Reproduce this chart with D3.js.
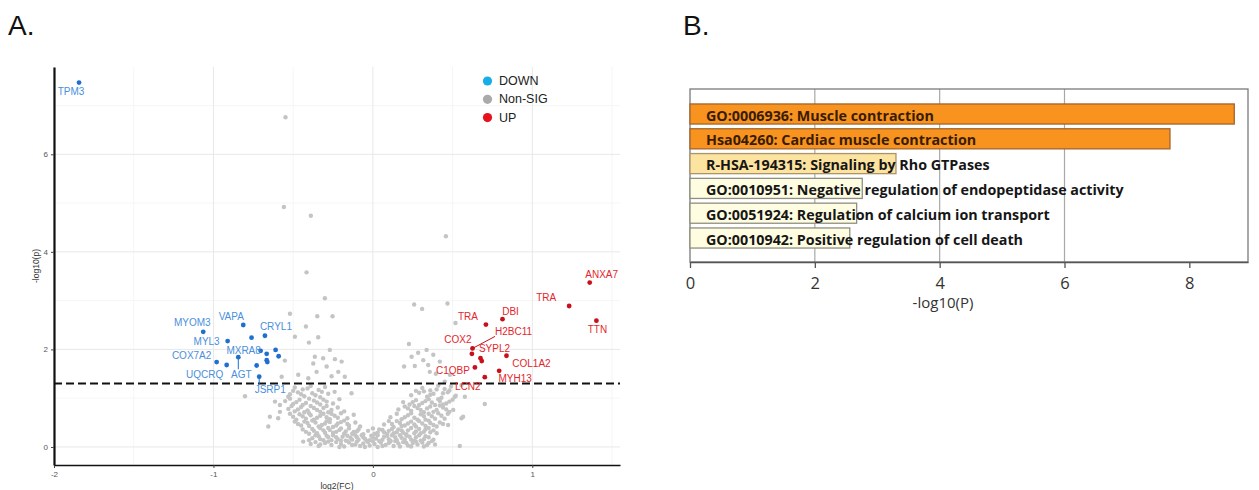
<!DOCTYPE html>
<html lang="en">
  <head>
    <meta charset="UTF-8" />
    <title>Volcano plot and enrichment</title>
    <script src="https://cdn.jsdelivr.net/npm/d3@7"></script>
    <style>
      html,
      body {
        margin: 0;
        padding: 0;
        background: #fff;
      }
      svg {
        display: block;
      }
    </style>
  </head>
  <body>
    <svg width="1259" height="490"></svg>
    <script>
      // ---- panel A data ----
      const downGenes = ['TPM3', 'MYOM3', 'VAPA', '', 'CRYL1', 'MYL3', 'MXRA8', '', '', '', '', '', 'AGT', 'COX7A2', 'UQCRQ', '', 'JSRP1'];
      const downFC = [-1.843, -1.064, -0.813, -0.761, -0.677, -0.911, -0.704, -0.666, -0.61, -0.591, -0.666, -0.662, -0.844, -0.98, -0.917, -0.729, -0.713];
      const downP = [7.47, 2.36, 2.5, 2.24, 2.28, 2.17, 1.97, 1.91, 1.99, 1.86, 1.78, 1.74, 1.84, 1.74, 1.68, 1.67, 1.44];

      const upGenes = ['ANXA7', 'TRA', 'TTN', 'DBI', 'TRA', 'H2BC11', 'COX2', 'SYPL2', '', 'COL1A2', 'C1QBP', 'MYH13', 'LCN2'];
      const upFC = [1.36, 1.231, 1.402, 0.813, 0.709, 0.625, 0.621, 0.675, 0.683, 0.838, 0.64, 0.792, 0.702];
      const upP = [3.37, 2.89, 2.59, 2.62, 2.51, 2.02, 1.91, 1.82, 1.76, 1.87, 1.63, 1.56, 1.43];

      // [log2FC, -log10p]
      const nonSig = [
        [-0.548, 6.76], [-0.558, 4.92], [-0.389, 4.74], [0.458, 4.32],
        [-0.416, 3.58], [-0.301, 3.05], [-0.52, 2.73], [-0.349, 2.68], [-0.253, 2.68], [-0.42, 2.47],
        [-0.489, 2.26], [-0.343, 2.25], [-0.401, 2.14], [-0.27, 1.99], [-0.364, 1.85], [-0.312, 1.82],
        [-0.238, 1.8], [-0.196, 1.75], [-0.552, 1.77], [-0.374, 1.71], [-0.29, 1.65], [-0.353, 1.54],
        [-0.217, 1.54], [-0.468, 1.48], [-0.572, 1.44], [-0.259, 1.45], [-0.176, 1.44], [-0.405, 1.41],
        [0.259, 2.92], [0.309, 2.83], [0.468, 2.94], [0.518, 2.54], [0.226, 2.11], [0.284, 1.93],
        [0.337, 1.99], [0.243, 1.85], [0.379, 1.89], [0.316, 1.78], [0.196, 1.65], [0.263, 1.66],
        [0.347, 1.68], [0.42, 1.75], [0.357, 1.54], [0.395, 1.5], [0.483, 1.48], [0.451, 1.34],
        [-0.802, 1.04], [-0.614, 0.93], [-0.531, 1.03], [-0.134, 1.1], [-0.583, 0.72], [-0.646, 0.62],
        [-0.594, 0.59], [-0.656, 0.42], [-0.437, 0.11], [-0.583, 0.86], [0.556, 1.27], [0.514, 1.03],
        [0.577, 1.03], [0.504, 0.76], [0.556, 0.59], [0.472, 0.45], [0.545, 0.02], [0.702, 0.88],
        [0.566, 0.62],
        [-0.49, 1.22], [-0.44, 1.18], [-0.39, 1.25], [-0.34, 1.17], [-0.3, 1.23], [0.31, 1.21],
        [0.36, 1.16], [0.41, 1.26], [0.45, 1.19], [0.49, 1.24], [0.27, 1.15],
        [-0.52, 1.08], [-0.47, 1.12], [-0.43, 1.04], [-0.38, 1.1], [-0.33, 1.02], [-0.28, 1.09],
        [-0.24, 1.13], [0.24, 1.06], [0.29, 1.11], [0.34, 1.03], [0.38, 1.09], [0.43, 1.01],
        [0.47, 1.12], [0.52, 1.05],
        [-0.5, 1.15], [-0.45, 1.08], [-0.41, 1.2], [-0.36, 1.06], [-0.32, 1.13], [0.32, 1.14],
        [0.36, 1.07], [0.4, 1.18], [0.44, 1.1], [0.48, 1.16],
        [-0.55, 0.94], [-0.5, 0.88], [-0.46, 0.97], [-0.42, 0.9], [-0.37, 0.95], [-0.33, 0.87],
        [-0.29, 0.93], [-0.25, 0.89], [-0.21, 0.98], [0.19, 0.92], [0.23, 0.87], [0.27, 0.96],
        [0.31, 0.9], [0.35, 0.98], [0.39, 0.86], [0.42, 0.94], [0.46, 0.89], [0.5, 0.97],
        [-0.52, 0.99], [-0.48, 0.92], [-0.44, 0.86], [-0.4, 0.99], [-0.35, 0.91], [-0.31, 0.97],
        [0.25, 0.92], [0.29, 0.86], [0.33, 0.94], [0.37, 0.91], [0.41, 0.98], [0.44, 0.87], [0.48, 0.93],
        [-0.53, 0.78], [-0.49, 0.73], [-0.45, 0.82], [-0.41, 0.75], [-0.37, 0.8], [-0.33, 0.72],
        [-0.29, 0.84], [-0.26, 0.76], [-0.22, 0.81], [-0.18, 0.73], [0.16, 0.77], [0.2, 0.83],
        [0.24, 0.74], [0.28, 0.8], [0.32, 0.71], [0.36, 0.83], [0.4, 0.76], [0.44, 0.81], [0.48, 0.72],
        [-0.51, 0.84], [-0.47, 0.77], [-0.43, 0.71], [-0.39, 0.84], [-0.35, 0.76], [-0.31, 0.8],
        [-0.28, 0.71], [0.22, 0.79], [0.26, 0.84], [0.3, 0.76], [0.34, 0.79], [0.38, 0.72],
        [0.42, 0.85], [0.46, 0.77],
        [-0.5, 0.62], [-0.46, 0.67], [-0.42, 0.58], [-0.39, 0.65], [-0.35, 0.6], [-0.31, 0.68],
        [-0.27, 0.57], [-0.24, 0.64], [-0.2, 0.69], [-0.16, 0.59], [-0.12, 0.66], [0.11, 0.61],
        [0.15, 0.68], [0.18, 0.57], [0.22, 0.65], [0.26, 0.6], [0.3, 0.67], [0.33, 0.56],
        [0.37, 0.63], [0.41, 0.69], [0.45, 0.58],
        [-0.52, 0.68], [-0.48, 0.56], [-0.44, 0.63], [-0.4, 0.69], [-0.37, 0.56], [-0.33, 0.64],
        [-0.29, 0.61], [-0.26, 0.68], [-0.22, 0.6], [0.2, 0.61], [0.24, 0.69], [0.28, 0.56],
        [0.32, 0.63], [0.35, 0.68], [0.39, 0.58], [0.43, 0.64], [0.47, 0.68],
        [-0.47, 0.47], [-0.43, 0.52], [-0.4, 0.43], [-0.36, 0.5], [-0.32, 0.45], [-0.29, 0.53],
        [-0.25, 0.41], [-0.22, 0.48], [-0.18, 0.54], [-0.15, 0.44], [-0.11, 0.5], [-0.08, 0.42],
        [0.07, 0.46], [0.1, 0.53], [0.13, 0.41], [0.17, 0.49], [0.2, 0.44], [0.24, 0.52],
        [0.27, 0.42], [0.31, 0.48], [0.35, 0.54], [0.38, 0.45], [0.42, 0.5],
        [-0.49, 0.52], [-0.45, 0.44], [-0.41, 0.49], [-0.38, 0.54], [-0.34, 0.42], [-0.3, 0.48],
        [-0.27, 0.51], [-0.23, 0.44], [-0.2, 0.51], [-0.16, 0.47], [0.12, 0.47], [0.15, 0.53],
        [0.18, 0.43], [0.22, 0.48], [0.26, 0.46], [0.29, 0.53], [0.33, 0.43], [0.36, 0.49],
        [0.4, 0.42], [0.44, 0.47],
        [-0.42, 0.31], [-0.38, 0.37], [-0.35, 0.28], [-0.31, 0.34], [-0.28, 0.39], [-0.25, 0.29],
        [-0.21, 0.35], [-0.18, 0.27], [-0.15, 0.38], [-0.12, 0.31], [-0.09, 0.36], [-0.06, 0.26],
        [-0.03, 0.33], [0.0, 0.38], [0.03, 0.29], [0.06, 0.35], [0.09, 0.27], [0.12, 0.37],
        [0.15, 0.3], [0.18, 0.34], [0.21, 0.26], [0.24, 0.39], [0.27, 0.32], [0.3, 0.28],
        [0.33, 0.36], [0.36, 0.3],
        [-0.44, 0.36], [-0.4, 0.27], [-0.37, 0.33], [-0.33, 0.39], [-0.3, 0.29], [-0.27, 0.35],
        [-0.23, 0.31], [-0.2, 0.38], [-0.17, 0.32], [-0.13, 0.27], [-0.1, 0.32], [0.01, 0.27],
        [0.04, 0.36], [0.07, 0.3], [0.1, 0.33], [0.13, 0.28], [0.16, 0.36], [0.19, 0.29],
        [0.22, 0.34], [0.26, 0.28], [0.29, 0.37], [0.32, 0.31], [0.35, 0.39], [0.38, 0.34], [0.4, 0.28],
        [-0.38, 0.18], [-0.34, 0.22], [-0.31, 0.14], [-0.28, 0.2], [-0.25, 0.24], [-0.22, 0.16],
        [-0.19, 0.21], [-0.17, 0.13], [-0.14, 0.19], [-0.11, 0.24], [-0.09, 0.15], [-0.06, 0.2],
        [-0.04, 0.13], [-0.01, 0.23], [0.02, 0.17], [0.04, 0.12], [0.07, 0.21], [0.1, 0.16],
        [0.12, 0.24], [0.15, 0.14], [0.18, 0.19], [0.21, 0.23], [0.24, 0.15], [0.27, 0.2],
        [0.3, 0.13], [0.33, 0.22],
        [-0.4, 0.14], [-0.36, 0.24], [-0.33, 0.16], [-0.29, 0.23], [-0.26, 0.14], [-0.23, 0.2],
        [-0.2, 0.13], [-0.16, 0.23], [-0.13, 0.15], [-0.1, 0.2], [-0.07, 0.24], [-0.05, 0.17],
        [-0.02, 0.14], [0.0, 0.2], [0.03, 0.24], [0.06, 0.15], [0.09, 0.23], [0.11, 0.13],
        [0.14, 0.2], [0.17, 0.24], [0.2, 0.15], [0.23, 0.21], [0.26, 0.13], [0.29, 0.24],
        [0.32, 0.16], [0.35, 0.2], [0.38, 0.15],
        [-0.36, 0.1], [-0.33, 0.05], [-0.3, 0.08], [-0.26, 0.04], [-0.23, 0.1], [-0.2, 0.06],
        [-0.18, 0.01], [-0.15, 0.09], [-0.13, 0.04], [-0.1, 0.11], [-0.08, 0.02], [-0.06, 0.07],
        [-0.03, 0.1], [-0.02, 0.03], [0.01, 0.06], [0.03, 0.0], [0.05, 0.09], [0.08, 0.04],
        [0.11, 0.11], [0.13, 0.02], [0.16, 0.07], [0.19, 0.1], [0.22, 0.03], [0.25, 0.08],
        [0.28, 0.05], [0.31, 0.09], [0.34, 0.04], [0.37, 0.12],
        [-0.39, 0.06], [-0.34, 0.02], [-0.28, 0.11], [-0.21, 0.0], [-0.16, 0.12], [-0.11, 0.05],
        [-0.05, 0.0], [0.0, 0.12], [0.06, 0.02], [0.1, 0.08], [0.14, 0.12], [0.17, 0.01],
        [0.21, 0.08], [0.24, 0.01], [0.27, 0.11], [0.32, 0.01], [0.35, 0.08], [0.39, 0.05]
      ];

      const fcTicks = [-2, -1, 0, 1];
      const pTicks = [0, 2, 4, 6];
      const pCutoff = 1.301;
      const legendLabels = ['DOWN', 'Non-SIG', 'UP'];

      // label nudges in px [dx, dy, segment]
      const downNudge = [[-8, 9], [-11, -9], [-12, -9], null, [11, -9], [-21, 0], [-17, 0], null, null, null, null, null, [3, 17, 1], [-25, -7], [-22, 9], null, [11, 13, 1]];
      const upNudge = [[12, -8], [-23, -8], [1, 9], [8, -8], [-18, -8], [41, -17, 1], [-14, -14], [14, -10], null, [25, 8], [-22, 3], [16, 8], [-17, 9]];

      // ---- panel B data ----
      const termIds = ['GO:0006936', 'Hsa04260', 'R-HSA-194315', 'GO:0010951', 'GO:0051924', 'GO:0010942'];
      const termNames = ['Muscle contraction', 'Cardiac muscle contraction', 'Signaling by Rho GTPases', 'Negative regulation of endopeptidase activity', 'Regulation of calcium ion transport', 'Positive regulation of cell death'];
      const logP = [8.72, 7.69, 3.3, 2.76, 2.67, 2.56];
      const logPTicks = [0, 2, 4, 6, 8];

      const svg = d3.select('svg');
      const sans = 'Liberation Sans, Arial, sans-serif';

      svg.append('text').attr('x', 8).attr('y', 35).text('A.')
        .style('font-family', sans).style('font-size', '28px').style('fill', '#111');
      svg.append('text').attr('x', 683).attr('y', 35).text('B.')
        .style('font-family', sans).style('font-size', '28px').style('fill', '#111');

      // ===== panel A =====
      const x = d3.scaleLinear().domain([-2, 1.55]).range([54, 620]);
      const y = d3.scaleLinear().domain([-0.37, 7.79]).range([465, 67]);

      const gA = svg.append('g');
      const grid = gA.append('g');
      [-1.5, -0.5, 0.5, 1.5].forEach(v => {
        grid.append('line').attr('x1', x(v)).attr('x2', x(v)).attr('y1', 67).attr('y2', 465)
          .attr('stroke', '#f2f2f2').attr('stroke-width', 0.7);
      });
      [1, 3, 5, 7].forEach(v => {
        grid.append('line').attr('x1', 54).attr('x2', 620).attr('y1', y(v)).attr('y2', y(v))
          .attr('stroke', '#f2f2f2').attr('stroke-width', 0.7);
      });
      fcTicks.forEach(v => {
        grid.append('line').attr('x1', x(v)).attr('x2', x(v)).attr('y1', 67).attr('y2', 465)
          .attr('stroke', '#e8e8e8').attr('stroke-width', 1);
      });
      pTicks.forEach(v => {
        grid.append('line').attr('x1', 54).attr('x2', 620).attr('y1', y(v)).attr('y2', y(v))
          .attr('stroke', '#e8e8e8').attr('stroke-width', 1);
      });

      gA.append('g')
        .selectAll('circle')
        .data(nonSig)
        .enter()
        .append('circle')
        .attr('cx', d => x(d[0]))
        .attr('cy', d => y(d[1]))
        .attr('r', 2.2)
        .attr('fill', '#c4c4c4');

      gA.append('line')
        .attr('x1', 54).attr('x2', 620)
        .attr('y1', y(pCutoff)).attr('y2', y(pCutoff))
        .attr('stroke', '#111').attr('stroke-width', 2)
        .attr('stroke-dasharray', '8,4');

      function drawGroup(genes, fc, p, nudges, ptColor, txtColor) {
        const g = gA.append('g');
        g.selectAll('circle')
          .data(fc)
          .enter()
          .append('circle')
          .attr('cx', d => x(d))
          .attr('cy', (d, i) => y(p[i]))
          .attr('r', 2.4)
          .attr('fill', ptColor);
        genes.forEach((name, i) => {
          if (!name) return;
          const px = x(fc[i]);
          const py = y(p[i]);
          const n = nudges[i];
          const t = g.append('text')
            .attr('x', px + n[0])
            .attr('y', py + n[1])
            .attr('text-anchor', 'middle')
            .attr('dominant-baseline', 'central')
            .style('font-family', sans)
            .style('font-size', '10px')
            .style('fill', txtColor)
            .text(name);
          if (n[2]) {
            const hw = t.node().getComputedTextLength() / 2;
            const cx = px + n[0];
            const cy = py + n[1];
            const ex = Math.max(cx - hw, Math.min(px, cx + hw));
            const ey = Math.max(cy - 5, Math.min(py, cy + 5));
            g.append('line')
              .attr('x1', px).attr('y1', py).attr('x2', ex).attr('y2', ey)
              .attr('stroke', ptColor).attr('stroke-width', 1);
          }
        });
      }

      drawGroup(downGenes, downFC, downP, downNudge, '#1f6fd0', '#4a8fdc');
      drawGroup(upGenes, upFC, upP, upNudge, '#c8101a', '#e3262c');

      const xAxisA = d3.axisBottom(x).tickValues(fcTicks).tickSize(3).tickSizeOuter(0).tickFormat(d => String(d));
      const yAxisA = d3.axisLeft(y).tickValues(pTicks).tickSize(3).tickSizeOuter(0).tickFormat(d => String(d));
      const xg = gA.append('g').attr('transform', 'translate(0,465)').call(xAxisA);
      const yg = gA.append('g').attr('transform', 'translate(54,0)').call(yAxisA);
      [xg, yg].forEach(a => {
        a.selectAll('text').style('font-family', sans).style('font-size', '8px').style('fill', '#555');
        a.selectAll('.tick line').attr('stroke', '#444');
        a.select('.domain').attr('stroke', '#111');
      });
      xg.select('.domain').attr('stroke-width', 1.5);
      yg.select('.domain').attr('stroke-width', 2.2);

      gA.append('text')
        .attr('x', 337).attr('y', 489)
        .attr('text-anchor', 'middle')
        .style('font-family', sans).style('font-size', '8.5px').style('fill', '#333')
        .text('log2(FC)');
      gA.append('text')
        .attr('transform', 'translate(39,266) rotate(-90)')
        .attr('text-anchor', 'middle')
        .style('font-family', sans).style('font-size', '8.5px').style('fill', '#333')
        .text('-log10(p)');

      const legendColors = ['#17ade8', '#aaaaaa', '#e6121b'];
      const lg = gA.append('g');
      legendLabels.forEach((lab, i) => {
        const ly = 81 + i * 18.3;
        lg.append('circle').attr('cx', 487.5).attr('cy', ly).attr('r', 4.6).attr('fill', legendColors[i]);
        lg.append('text').attr('x', 499).attr('y', ly).attr('dominant-baseline', 'central')
          .style('font-family', sans).style('font-size', '12.5px').style('fill', '#222')
          .text(lab);
      });

      // ===== panel B =====
      const xB = d3.scaleLinear().domain([0, 8.94]).range([690, 1248]);
      const yB = d3.scaleBand().domain(termIds).range([101.6, 250.4]).paddingInner(0.19).paddingOuter(0.095);
      const fillB = d3.scaleThreshold().domain([3, 5]).range(['#fffde1', '#fde3a0', '#f7931e']);
      const strokeB = d3.scaleThreshold().domain([3, 5]).range(['#8f8f80', '#a8956a', '#a4652a']);

      const gB = svg.append('g');
      [2, 4, 6].forEach(v => {
        gB.append('line').attr('x1', xB(v)).attr('x2', xB(v)).attr('y1', 89).attr('y2', 262)
          .attr('stroke', '#a8a8a8').attr('stroke-width', 1.2);
      });
      gB.append('rect')
        .attr('x', 690).attr('y', 89).attr('width', 558).attr('height', 173)
        .attr('fill', 'none').attr('stroke', '#7a7a7a').attr('stroke-width', 1.3);

      gB.selectAll('rect.bar')
        .data(termIds)
        .enter()
        .append('rect')
        .attr('class', 'bar')
        .attr('x', xB(0))
        .attr('y', d => yB(d))
        .attr('width', (d, i) => xB(logP[i]) - xB(0))
        .attr('height', yB.bandwidth())
        .attr('fill', (d, i) => fillB(logP[i]))
        .attr('stroke', (d, i) => strokeB(logP[i]))
        .attr('stroke-width', 1.3);

      gB.selectAll('text.term')
        .data(termIds)
        .enter()
        .append('text')
        .attr('class', 'term')
        .attr('x', xB(0) + 16)
        .attr('y', d => yB(d) + yB.bandwidth() / 2 + 1)
        .attr('dominant-baseline', 'central')
        .style('font-family', 'Open Sans, sans-serif')
        .style('font-weight', 700)
        .style('font-size', '14.3px')
        .style('fill', (d, i) => (logP[i] > 5 ? '#3a1c02' : '#161616'))
        .text((d, i) => d + ': ' + termNames[i]);

      const xAxisB = d3.axisBottom(xB).tickValues(logPTicks).tickSize(6).tickSizeOuter(0).tickPadding(9);
      const xgB = gB.append('g').attr('transform', 'translate(0,262)').call(xAxisB);
      xgB.selectAll('text').style('font-family', 'Open Sans, sans-serif').style('font-size', '16.5px').style('fill', '#333');
      xgB.selectAll('.tick line').attr('stroke', '#555').attr('stroke-width', 1.3);
      xgB.select('.domain').attr('stroke', '#555').attr('stroke-width', 1.5);

      gB.append('text')
        .attr('x', 943).attr('y', 308)
        .attr('text-anchor', 'middle')
        .style('font-family', 'Open Sans, sans-serif').style('font-size', '15px').style('fill', '#333')
        .text('-log10(P)');
    </script>
  </body>
</html>
